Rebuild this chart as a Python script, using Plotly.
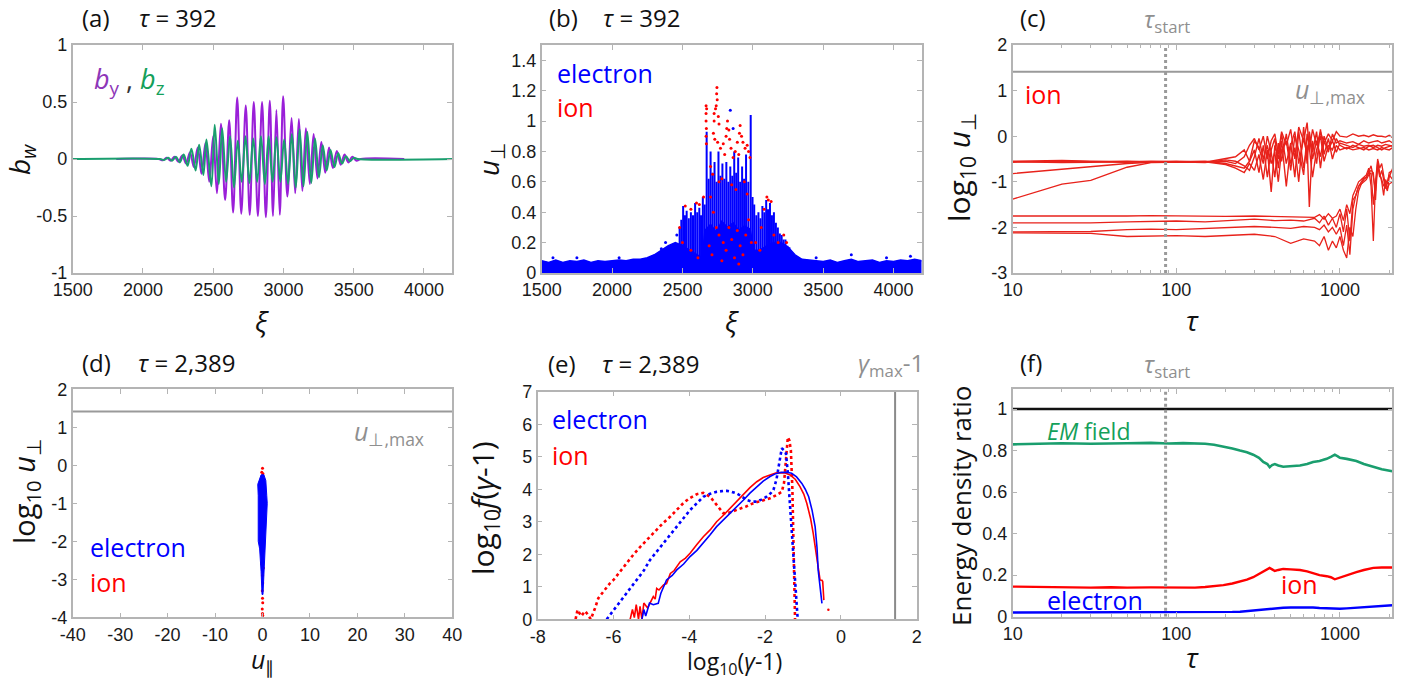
import plotly.graph_objects as go

W, H = 1412, 681

# ---------------- (a) wave magnetic field at tau = 392 (oscillation extrema) ----------------
by_xi = [1810, 2110, 2142, 2170, 2197, 2225, 2252, 2280, 2307, 2335, 2362, 2390, 2417, 2445,
         2472, 2500, 2527, 2555, 2585, 2614, 2642, 2671, 2700, 2732, 2760, 2789, 2818, 2848,
         2875, 2903, 2926, 2950, 2974, 2998, 3028, 3058, 3084, 3110, 3135, 3160, 3188, 3215,
         3242, 3270, 3298, 3325, 3352, 3380, 3408, 3435, 3462, 3490, 3520, 3550, 3860]
by_val = [0, 0, -0.01, 0.01, -0.015, 0.02, -0.025, 0.03, -0.04, 0.06, -0.07, 0.1, -0.13, 0.14,
          -0.2, 0.2, -0.3, 0.31, -0.36, 0.34, -0.47, 0.54, -0.48, 0.47, -0.49, 0.5, -0.5, 0.5,
          -0.51, 0.51, -0.5, 0.43, -0.49, 0.55, -0.33, 0.36, -0.3, 0.35, -0.28, 0.27, -0.22, 0.22,
          -0.17, 0.15, -0.12, 0.1, -0.08, 0.07, -0.05, 0.04, -0.03, 0.02, -0.015, 0, 0]
bz_xi = [1500, 2120, 2150, 2180, 2207, 2235, 2262, 2290, 2318, 2345, 2375, 2400, 2430, 2452,
         2487, 2511, 2540, 2564, 2592, 2620, 2648, 2675, 2703, 2730, 2758, 2785, 2813, 2840,
         2868, 2895, 2923, 2950, 2978, 3005, 3033, 3060, 3088, 3115, 3143, 3170, 3198, 3225,
         3253, 3280, 3308, 3335, 3363, 3390, 3418, 3445, 3473, 3500, 3530, 4200]
bz_val = [0, 0, -0.008, 0.01, -0.015, 0.02, -0.03, 0.04, -0.06, 0.09, -0.1, 0.125, -0.14, 0.17,
          -0.24, 0.3, -0.22, 0.27, -0.2, 0.2, -0.25, 0.16, -0.2, 0.2, -0.21, 0.18, -0.2, 0.2,
          -0.22, 0.2, -0.2, 0.19, -0.2, 0.17, -0.22, 0.22, -0.25, 0.26, -0.24, 0.24, -0.21, 0.18,
          -0.16, 0.12, -0.1, 0.08, -0.07, 0.05, -0.04, 0.025, -0.02, 0.01, 0, 0]

# ---------------- (b) u_perp vs xi at tau = 392 ----------------
band_xi = [1500, 1550, 1600, 1650, 1700, 1750, 1800, 1850, 1900, 1950, 2000, 2050, 2100, 2150,
           2200, 2250, 2300, 2350, 2400, 2450, 2500, 2550, 2600, 2640, 2660, 2700, 2740, 2780,
           2820, 2860, 2900, 2940, 2980, 3010, 3050,
           3100, 3150, 3200, 3250, 3300, 3350, 3400, 3450, 3500, 3550, 3600, 3650, 3700, 3750,
           3800, 3850, 3900, 3950, 4000, 4050, 4100, 4150, 4200]
band_top = [0.08, 0.07, 0.085, 0.07, 0.08, 0.075, 0.085, 0.07, 0.08, 0.075, 0.08, 0.085, 0.08, 0.09,
            0.09, 0.1, 0.12, 0.15, 0.18, 0.2, 0.18, 0.15, 0.12, 0.1, 0.28, 0.32, 0.27, 0.34,
            0.3, 0.33, 0.28, 0.31, 0.29, 0.15, 0.15,
            0.18, 0.2, 0.2, 0.17, 0.12, 0.09, 0.085, 0.08, 0.075, 0.085, 0.07, 0.08, 0.09, 0.075,
            0.08, 0.085, 0.07, 0.08, 0.075, 0.085, 0.08, 0.09, 0.08]
stripe_xi = [2480, 2492, 2505, 2518, 2530, 2545, 2560, 2575, 2590, 2605, 2620, 2632, 2645, 2658,
             2672, 2686, 2700, 2714, 2728, 2742, 2756, 2770, 2784, 2798, 2812, 2826, 2840, 2854,
             2868, 2882, 2896, 2910, 2924, 2938, 2952, 2968, 2985, 2998, 3010, 3025, 3040, 3054,
             3068, 3082, 3095, 3108, 3122, 3136, 3150, 3164, 3178, 3192, 3205, 3218, 3232, 3246,
             3260]
stripe_lo = [0.05, 0.06, 0.03, 0.06, 0.05, 0.06, 0.04, 0.06, 0.05, 0.06, 0.03, 0.06, 0.05, 0.05,
             0.0, 0.03, 0.02, 0.03, 0.0, 0.03, 0.02, 0.03, 0.0, 0.03, 0.02, 0.03, 0.0, 0.03,
             0.02, 0.03, 0.0, 0.03, 0.02, 0.03, 0.0, 0.03, 0.0, 0.03, 0.05, 0.06, 0.04, 0.06,
             0.05, 0.06, 0.04, 0.06, 0.05, 0.06, 0.04, 0.06, 0.05, 0.06, 0.05, 0.06, 0.06, 0.06,
             0.06]
stripe_hi = [0.3, 0.35, 0.44, 0.38, 0.41, 0.36, 0.4, 0.38, 0.46, 0.4, 0.43, 0.38, 0.5, 0.45,
             0.93, 0.62, 0.8, 0.66, 0.73, 0.6, 0.8, 0.64, 0.72, 0.62, 0.73, 0.6, 0.7, 0.64,
             0.8, 0.66, 0.76, 0.6, 0.7, 0.62, 0.78, 0.6, 1.04, 0.5, 0.45, 0.38, 0.4, 0.36,
             0.44, 0.4, 0.48, 0.42, 0.46, 0.38, 0.4, 0.33, 0.3, 0.26, 0.25, 0.22, 0.22, 0.18,
             0.17]
el_pts_xi = [1580, 1750, 2050, 2350, 2840, 2860, 3450, 3700, 3950, 4120, 2460, 2380]
el_pts_u = [0.1, 0.1, 0.1, 0.16, 1.07, 0.95, 0.1, 0.12, 0.1, 0.11, 0.25, 0.2]
ion_pts_xi = [2668, 2668, 2668, 2670, 2668, 2670, 2672, 2745, 2743, 2747, 2740, 2735, 2725, 2725,
              2755, 2760, 2720, 2730, 2750, 2770, 2790, 2800, 2810, 2815, 2820, 2830, 2835, 2845,
              2860, 2875, 2890, 2900, 2905, 2910, 2920, 2930, 2945, 2960, 2970, 2980, 2700, 2715,
              2760, 2780, 2850, 2880, 2940, 2960, 2700, 2720, 2740, 2760, 2790, 2810, 2830, 2850,
              2870, 2890, 2910, 2930, 2950, 2970, 2990, 2690, 2710, 2780, 2900, 2650, 2620, 2600,
              2560, 2520, 2480, 2500, 2560, 2610, 3100, 3110, 3130, 3080, 3060, 3150, 3180, 3220,
              3240, 3020, 3050]
ion_pts_u = [1.1, 1.05, 1.0, 0.95, 0.9, 0.85, 1.08, 1.22, 1.18, 1.14, 1.1, 1.08, 1.05, 1.0,
             1.03, 0.98, 0.92, 0.88, 0.86, 0.82, 0.85, 0.78, 0.9, 0.95, 1.0, 0.94, 0.88, 0.82,
             0.76, 0.8, 0.86, 0.78, 0.92, 0.97, 0.9, 0.86, 0.82, 0.84, 0.8, 0.76, 0.7, 0.65,
             0.6, 0.62, 0.58, 0.55, 0.6, 0.52, 0.5, 0.4, 0.3, 0.25, 0.2, 0.15, 0.3, 0.22,
             0.1, 0.28, 0.18, 0.12, 0.25, 0.35, 0.2, 0.18, 0.12, 0.08, 0.06, 0.5, 0.45, 0.46,
             0.42, 0.44, 0.3, 0.2, 0.15, 0.1, 0.5, 0.48, 0.47, 0.42, 0.3, 0.25, 0.2, 0.25,
             0.2, 0.2, 0.15]

# ---------------- (c) ion trajectories log10 u_perp vs tau ----------------
tau_up = [10, 20, 30, 50, 70, 100, 150, 200, 230, 260, 280, 300, 320, 340, 360, 380, 400, 420,
          440, 470, 500, 530, 560, 600, 630, 650, 680, 720, 760, 800, 850, 900, 950, 1000, 1100,
          1200, 1300, 1400, 1500, 1600, 1700, 1800, 1900, 2000, 2100]
ion_u1 = [-0.55, -0.53, -0.55, -0.56, -0.56, -0.57, -0.56, -0.55, -0.6, -0.45, -0.2, -0.05, -0.3,
          0.0, -0.5, -0.1, 0.05, -0.4, 0.1, -0.2, 0.15, -0.5, 0.2, -0.1, 0.3, -0.3, 0.15, -0.2,
          0.1, -0.15, 0.05, -0.1, 0.1, 0.0, -0.02, 0.05, 0.0, 0.02, -0.01, 0.03, 0.0, 0.0, -0.02,
          0.02, -0.03]
ion_u2 = [-0.82, -0.72, -0.66, -0.6, -0.57, -0.56, -0.55, -0.6, -0.65, -0.7, -0.55, -0.3, -0.8,
          -0.2, -0.9, -0.3, -0.05, -0.7, -0.1, -1.1, -0.2, 0.1, -0.6, -0.05, -0.4, 0.0, -0.5, -0.1,
          -0.45, 0.0, -0.3, -0.1, -0.35, -0.15, -0.2, -0.25, -0.18, -0.22, -0.2, -0.25, -0.2, -0.22,
          -0.18, -0.2, -0.22]
ion_u3 = [-1.38, -1.05, -0.97, -0.68, -0.58, -0.57, -0.56, -0.62, -0.7, -0.8, -0.6, -0.75, -0.4,
          -0.95, -0.3, -1.22, -0.2, -0.5, 0.05, -0.6, -0.15, -0.9, 0.1, -0.7, -0.2, -1.55, -0.1,
          -0.6, 0.15, -0.4, -0.05, -0.5, -0.2, -0.3, -0.25, -0.3, -0.28, -0.25, -0.3, -0.27, -0.3,
          -0.25, -0.28, -0.3, -0.25]
ion_u4 = [-0.56, -0.58, -0.57, -0.55, -0.56, -0.55, -0.57, -0.5, -0.45, -0.3, -0.55, -0.1, -0.25,
          -0.6, 0.0, -0.35, -0.9, -0.15, -0.55, 0.05, -0.6, -0.25, -1.0, 0.2, -0.6, 0.1, -0.35,
          0.1, -0.7, -0.1, -0.35, 0.05, -0.15, -0.1, -0.15, -0.12, -0.18, -0.1, -0.15, -0.12, -0.1,
          -0.15, -0.12, -0.1, -0.15]
ion_u5 = [-0.57, -0.55, -0.56, -0.57, -0.55, -0.56, -0.58, -0.52, -0.55, -0.65, -0.75, -0.45,
          -0.05, -0.5, -0.2, -0.6, -0.35, -1.0, -0.3, -0.1, -0.75, 0.0, -0.3, -0.85, 0.05, -0.25,
          -0.9, -0.3, 0.0, -0.55, -0.2, -0.3, -0.05, -0.2, -0.28, -0.2, -0.25, -0.3, -0.22, -0.2,
          -0.25, -0.3, -0.25, -0.22, -0.2]
tau_lo = [10, 20, 30, 50, 70, 100, 150, 200, 300, 400, 500, 600, 700, 750, 800, 850, 900, 950,
          1000, 1050, 1100, 1150, 1200, 1250, 1300, 1350, 1400, 1450, 1500, 1550, 1600, 1650,
          1700, 1750, 1800, 1850, 1900, 1950, 2000, 2100]
ion_l1 = [-1.75, -1.75, -1.76, -1.75, -1.74, -1.75, -1.76, -1.76, -1.75, -1.76, -1.77, -1.76,
          -1.78, -1.72, -1.82, -1.7, -1.8, -1.75, -1.6, -1.85, -1.5, -1.7, -1.3, -1.15, -1.0,
          -0.95, -0.9, -0.85, -0.7, -1.1, -2.3, -1.0, -0.5, -0.7, -0.6, -0.9, -1.1, -1.2, -0.9, -0.7]
ion_l2 = [-1.9, -1.9, -1.9, -1.88, -1.87, -1.86, -1.88, -1.85, -1.82, -1.85, -1.84, -1.86,
          -1.8, -1.9, -1.75, -1.95, -1.8, -2.0, -1.7, -2.1, -1.6, -2.3, -1.4, -1.3, -1.1, -1.05,
          -0.95, -0.9, -0.8, -0.75, -0.8, -1.4, -0.55, -0.8, -1.0, -1.3, -0.95, -1.05, -0.8, -0.75]
ion_l3 = [-2.1, -2.1, -2.09, -2.05, -2.04, -2.05, -2.02, -2.0, -1.98, -2.0, -2.02, -1.98,
          -2.0, -2.05, -1.95, -2.1, -2.0, -2.15, -2.0, -2.4, -1.95, -2.6, -1.6, -1.3, -1.1, -1.0,
          -0.92, -0.9, -0.75, -0.65, -0.9, -1.2, -0.6, -0.9, -0.75, -1.0, -1.15, -1.0, -0.85, -0.95]
ion_l4 = [-2.12, -2.12, -2.13, -2.2, -2.19, -2.18, -2.2, -2.18, -2.15, -2.2, -2.35, -2.25,
          -2.3, -2.4, -2.2, -2.5, -2.3, -2.45, -2.2, -2.5, -2.67, -2.0, -2.2, -1.6, -1.2, -1.05,
          -1.0, -0.95, -0.85, -0.8, -1.5, -1.1, -0.65, -0.85, -0.95, -1.1, -1.0, -1.15, -1.05, -1.0]
tau_start = 86
log_u_perp_max = 1.415

# ---------------- (d) log10 u_perp vs u_par at tau = 2,389 ----------------
clu_logu = [-0.25, -0.4, -0.5, -0.8, -1.0, -1.3, -1.6, -2.0, -2.2, -2.5, -2.8, -3.1, -3.4]
clu_left = [-0.3, -0.7, -1.0, -0.9, -0.9, -0.8, -0.8, -0.9, -0.6, -0.4, -0.3, -0.2, -0.1]
clu_right = [0.3, 0.7, 0.8, 0.9, 1.0, 0.9, 0.8, 0.7, 0.6, 0.4, 0.3, 0.2, 0.1]
ion_d_upar = [0.0, -0.15, 0.1, 0.0, 0.05, -0.05, 0.0, 0.05, -0.05, 0.0, 0.05, -0.2, 0.2]
ion_d_logu = [-0.08, -0.18, -0.22, -2.9, -3.1, -3.3, -3.5, -3.62, -3.78, -3.9, -3.95, -2.6, -2.7]

# ---------------- (e) energy spectra at tau = 2,389 ----------------
ion_sol_x = [-5.56, -5.5, -5.45, -5.4, -5.34, -5.3, -5.25, -5.2, -5.1, -5.04, -4.95, -4.9, -4.86,
             -4.8, -4.68, -4.6, -4.5, -4.4, -4.24, -4.1, -3.98, -3.8, -3.63, -3.45, -3.28, -3.1,
             -2.93, -2.75, -2.57, -2.4, -2.22, -2.05, -1.87, -1.72, -1.6, -1.47, -1.34, -1.2,
             -1.08, -0.98, -0.9, -0.8, -0.73, -0.66, -0.6, -0.55, -0.5, -0.48, -0.45]
ion_sol_y = [0.0, 0.3, 0.05, 0.45, 0.0, 0.4, 0.0, 0.5, 0.35, 0.5, 0.7, 0.62, 0.95, 0.9, 1.06,
             1.1, 1.41, 1.5, 1.77, 1.88, 2.03, 2.3, 2.54, 2.75, 3.0, 3.2, 3.41, 3.65, 3.87, 4.05,
             4.23, 4.36, 4.44, 4.5, 4.51, 4.5, 4.44, 4.3, 4.08, 3.85, 3.57, 3.1, 2.64, 2.1, 1.62,
             1.21, 1.2, 1.16, 0.59]
el_sol_x = [-5.25, -5.2, -5.15, -5.05, -4.95, -4.82, -4.75, -4.6, -4.45, -4.33, -4.15, -3.98,
            -3.8, -3.63, -3.45, -3.28, -3.1, -2.93, -2.75, -2.57, -2.4, -2.22, -2.05, -1.87,
            -1.72, -1.56, -1.43, -1.3, -1.17, -1.03, -0.94, -0.85, -0.76, -0.68, -0.63, -0.6,
            -0.55, -0.5]
el_sol_y = [0.0, 0.3, 0.1, 0.5, 0.45, 0.49, 0.8, 1.21, 1.35, 1.52, 1.7, 1.93, 2.12, 2.34, 2.6,
            2.85, 3.05, 3.26, 3.47, 3.67, 3.88, 4.08, 4.25, 4.39, 4.48, 4.52, 4.52, 4.49, 4.38,
            4.18, 4.0, 3.77, 3.35, 2.85, 2.2, 1.52, 0.9, 0.49]
ion_dot_x = [-7.0, -6.95, -6.85, -6.75, -6.7, -6.6, -6.5, -6.4, -6.3, -6.2, -6.1, -6.0, -5.87,
             -5.74, -5.6, -5.48, -5.3, -5.12, -5.0, -4.86, -4.7, -4.5, -4.33, -4.16, -4.0, -3.8,
             -3.63, -3.45, -3.3, -3.23, -3.1, -2.95, -2.75, -2.5, -2.31, -2.1, -1.87, -1.7,
             -1.56, -1.5, -1.45, -1.4, -1.36, -1.32, -1.28, -1.25, -1.22, -1.21]
ion_dot_y = [0.0, 0.29, 0.1, 0.25, 0.18, 0.0, 0.3, 0.65, 0.8, 0.95, 1.1, 1.21, 1.4, 1.62, 1.8,
             1.98, 2.22, 2.44, 2.6, 2.75, 2.95, 3.16, 3.37, 3.57, 3.72, 3.85, 3.89, 3.77, 3.55,
             3.46, 3.26, 3.28, 3.36, 3.47, 3.57, 3.65, 3.72, 3.82, 3.92, 4.2, 4.8, 5.6, 5.5, 5.2,
             4.0, 2.44, 1.0, 0.0]
el_dot_x = [-6.18, -6.05, -5.92, -5.78, -5.65, -5.52, -5.39, -5.2, -5.04, -4.86, -4.68, -4.5,
            -4.33, -4.15, -3.98, -3.8, -3.63, -3.45, -3.28, -3.1, -3.01, -2.88, -2.75, -2.62,
            -2.49, -2.35, -2.22, -2.1, -1.96, -1.85, -1.78, -1.7, -1.65, -1.6, -1.56, -1.5,
            -1.45, -1.4, -1.34, -1.28, -1.21, -1.17, -1.14]
el_dot_y = [0.0, 0.2, 0.39, 0.6, 0.8, 1.0, 1.21, 1.5, 1.82, 2.08, 2.34, 2.6, 2.85, 3.1, 3.36,
            3.57, 3.77, 3.86, 3.92, 3.95, 3.95, 3.92, 3.87, 3.78, 3.67, 3.62, 3.62, 3.68, 3.77,
            3.88, 3.98, 4.3, 4.69, 5.0, 5.26, 5.2, 5.1, 4.5, 3.46, 2.4, 1.41, 0.6, 0.0]
log_gamma_max_m1 = 1.43

# ---------------- (f) energy density ratios vs tau ----------------
tau_f = [10, 15, 20, 30, 40, 50, 70, 90, 110, 130, 150, 170, 194, 220, 245, 270, 295, 320, 340,
         360, 372, 385, 400, 420, 450, 500, 570, 630, 685, 750, 830, 880, 930, 970, 1000, 1100,
         1260, 1400, 1600, 1800, 2090]
em_ratio = [0.83, 0.832, 0.835, 0.833, 0.836, 0.835, 0.837, 0.834, 0.836, 0.835, 0.833, 0.828,
            0.82, 0.81, 0.8, 0.792, 0.78, 0.765, 0.745, 0.735, 0.72, 0.73, 0.735, 0.728, 0.722,
            0.725, 0.728, 0.735, 0.745, 0.75, 0.76, 0.77, 0.78, 0.772, 0.765, 0.76, 0.75, 0.735,
            0.72, 0.71, 0.70]
ion_ratio = [0.145, 0.143, 0.145, 0.14, 0.142, 0.14, 0.141, 0.14, 0.142, 0.14, 0.143, 0.147,
             0.152, 0.16, 0.17, 0.178, 0.19, 0.205, 0.215, 0.225, 0.235, 0.228, 0.22, 0.225, 0.23,
             0.228, 0.225, 0.218, 0.21, 0.2, 0.195, 0.19, 0.18, 0.185, 0.19, 0.2, 0.215, 0.225,
             0.235, 0.237, 0.237]
el_ratio = [0.02, 0.02, 0.02, 0.02, 0.02, 0.02, 0.02, 0.02, 0.02, 0.02, 0.02, 0.021, 0.022,
            0.023, 0.024, 0.027, 0.03, 0.032, 0.035, 0.037, 0.038, 0.04, 0.041, 0.042, 0.043,
            0.044, 0.045, 0.045, 0.044, 0.042, 0.04, 0.038, 0.036, 0.037, 0.038, 0.04, 0.043,
            0.046, 0.05, 0.052, 0.055]
total_ratio = [1.0] * len(tau_f)

# ---------------- tick labels ----------------
a_yticks = [-1, -0.5, 0, 0.5, 1]
a_ytext = ["-1", "-0.5", "0", "0.5", "1"]
xi_ticks = [1500, 2000, 2500, 3000, 3500, 4000]
b_yticks = [0, 0.2, 0.4, 0.6, 0.8, 1.0, 1.2, 1.4]
b_ytext = ["0", "0.2", "0.4", "0.6", "0.8", "1", "1.2", "1.4"]
c_yticks = [-3, -2, -1, 0, 1, 2]
c_ytext = ["-3", "-2", "-1", "0", "1", "2"]
tau_ticks = [10, 100, 1000]
tau_minor = [20, 30, 40, 50, 60, 70, 80, 90, 200, 300, 400, 500, 600, 700, 800, 900, 2000]
d_xticks = [-40, -30, -20, -10, 0, 10, 20, 30, 40]
d_xtext = ["-40", "-30", "-20", "-10", "0", "10", "20", "30", "40"]
d_yticks = [-4, -3, -2, -1, 0, 1, 2]
d_ytext = ["-4", "-3", "-2", "-1", "0", "1", "2"]
e_xticks = [-8, -6, -4, -2, 0, 2]
e_xtext = ["-8", "-6", "-4", "-2", "0", "2"]
e_yticks = [0, 1, 2, 3, 4, 5, 6, 7]
f_yticks = [0, 0.2, 0.4, 0.6, 0.8, 1.0]
f_ytext = ["0", "0.2", "0.4", "0.6", "0.8", "1"]

# ---------------- colours ----------------
RED = "#ff0000"
RED_LINE = "#e8221b"
BLUE = "#0000ff"
PURPLE = "#9a1fd8"
GREEN = "#1a9e6e"
GRAY = "#8f8f8f"
FRAME = "#b4b4b4"

TEXT_FONT = "Open Sans, Noto Sans, sans-serif"
TICK_FONT = "Liberation Sans, Arial, sans-serif"

fig = go.Figure()

# (a)
fig.add_trace(go.Scatter(x=by_xi, y=by_val, mode="lines", line=dict(color=PURPLE, width=2, shape="spline", smoothing=1.0),
                         xaxis="x", yaxis="y"))
fig.add_trace(go.Scatter(x=bz_xi, y=bz_val, mode="lines", line=dict(color=GREEN, width=2, shape="spline", smoothing=1.0),
                         xaxis="x", yaxis="y"))

# (b)
fig.add_trace(go.Scatter(x=band_xi, y=band_top, mode="lines", fill="tozeroy", fillcolor=BLUE,
                         line=dict(color=BLUE, width=1.5), xaxis="x2", yaxis="y2"))
sx, sy = [], []
for x0, lo, hi in zip(stripe_xi, stripe_lo, stripe_hi):
    sx += [x0, x0, None]
    sy += [lo, hi, None]
fig.add_trace(go.Scatter(x=sx, y=sy, mode="lines", line=dict(color=BLUE, width=2.0),
                         xaxis="x2", yaxis="y2"))
fig.add_trace(go.Scatter(x=el_pts_xi, y=el_pts_u, mode="markers", marker=dict(color=BLUE, size=3),
                         xaxis="x2", yaxis="y2"))
fig.add_trace(go.Scatter(x=ion_pts_xi, y=ion_pts_u, mode="markers", marker=dict(color=RED, size=3),
                         xaxis="x2", yaxis="y2"))

# (c)
fig.add_trace(go.Scatter(x=[10, 2100], y=[log_u_perp_max, log_u_perp_max], mode="lines",
                         line=dict(color="#9a9a9a", width=2), xaxis="x3", yaxis="y3"))
for series in (ion_u1, ion_u2, ion_u3, ion_u4, ion_u5):
    fig.add_trace(go.Scatter(x=tau_up, y=series, mode="lines", line=dict(color=RED_LINE, width=1.4),
                             xaxis="x3", yaxis="y3"))
for series in (ion_l1, ion_l2, ion_l3, ion_l4):
    fig.add_trace(go.Scatter(x=tau_lo, y=series, mode="lines", line=dict(color=RED_LINE, width=1.3),
                             xaxis="x3", yaxis="y3"))
fig.add_trace(go.Scatter(x=[tau_start, tau_start], y=[-3, 2], mode="lines",
                         line=dict(color="#9a9a9a", width=3, dash="dot"), xaxis="x3", yaxis="y3"))

# (d)
fig.add_trace(go.Scatter(x=[-40, 40], y=[log_u_perp_max, log_u_perp_max], mode="lines",
                         line=dict(color="#9a9a9a", width=2), xaxis="x4", yaxis="y4"))
fig.add_trace(go.Scatter(x=ion_d_upar, y=ion_d_logu, mode="markers", marker=dict(color=RED, size=3),
                         xaxis="x4", yaxis="y4"))
poly_x = clu_left + clu_right[::-1] + [clu_left[0]]
poly_y = clu_logu + clu_logu[::-1] + [clu_logu[0]]
fig.add_trace(go.Scatter(x=poly_x, y=poly_y, mode="lines", fill="toself", fillcolor=BLUE,
                         line=dict(color=BLUE, width=1), xaxis="x4", yaxis="y4"))

# (e)
fig.add_trace(go.Scatter(x=[log_gamma_max_m1, log_gamma_max_m1], y=[0, 7], mode="lines",
                         line=dict(color="#8a8a8a", width=2), xaxis="x5", yaxis="y5"))
fig.add_trace(go.Scatter(x=ion_dot_x, y=ion_dot_y, mode="lines", line=dict(color=RED, width=2.6, dash="dot"),
                         xaxis="x5", yaxis="y5"))
fig.add_trace(go.Scatter(x=el_dot_x, y=el_dot_y, mode="lines", line=dict(color=BLUE, width=2.6, dash="dot"),
                         xaxis="x5", yaxis="y5"))
fig.add_trace(go.Scatter(x=ion_sol_x, y=ion_sol_y, mode="lines", line=dict(color=RED, width=1.6),
                         xaxis="x5", yaxis="y5"))
fig.add_trace(go.Scatter(x=el_sol_x, y=el_sol_y, mode="lines", line=dict(color=BLUE, width=1.6),
                         xaxis="x5", yaxis="y5"))
fig.add_trace(go.Scatter(x=[-0.33], y=[0.29], mode="markers", marker=dict(color=RED, size=2.5),
                         xaxis="x5", yaxis="y5"))

# (f)
fig.add_trace(go.Scatter(x=tau_f, y=total_ratio, mode="lines", line=dict(color="#111111", width=2.4),
                         xaxis="x6", yaxis="y6"))
fig.add_trace(go.Scatter(x=tau_f, y=em_ratio, mode="lines", line=dict(color=GREEN, width=2.6),
                         xaxis="x6", yaxis="y6"))
fig.add_trace(go.Scatter(x=tau_f, y=ion_ratio, mode="lines", line=dict(color=RED, width=2.4),
                         xaxis="x6", yaxis="y6"))
fig.add_trace(go.Scatter(x=tau_f, y=el_ratio, mode="lines", line=dict(color=BLUE, width=2.4),
                         xaxis="x6", yaxis="y6"))
fig.add_trace(go.Scatter(x=[tau_start, tau_start], y=[0, 1.095], mode="lines",
                         line=dict(color="#9a9a9a", width=3, dash="dot"), xaxis="x6", yaxis="y6"))

# ---------------- axes ----------------
# panel frames in pixels: left, right, top, bottom
boxes = {
    1: (72.7, 452.0, 45.0, 273.0),
    2: (541.7, 921.7, 45.0, 273.0),
    3: (1012.7, 1392.3, 45.0, 273.0),
    4: (72.7, 452.3, 389.3, 617.3),
    5: (537.7, 916.7, 391.7, 619.3),
    6: (1012.7, 1392.3, 389.3, 616.7),
}


def base_axis():
    return dict(showline=True, linecolor=FRAME, linewidth=1.5, mirror="ticks",
                ticks="inside", ticklen=5, tickcolor=FRAME, tickwidth=1,
                showgrid=False, zeroline=False, automargin=False,
                tickfont=dict(family=TICK_FONT, size=18, color="#1a1a1a"))


axis_specs = {
    1: (dict(range=[1500, 4200], tickvals=xi_ticks),
        dict(range=[-1, 1], tickvals=a_yticks, ticktext=a_ytext)),
    2: (dict(range=[1500, 4200], tickvals=xi_ticks),
        dict(range=[0, 1.5], tickvals=b_yticks, ticktext=b_ytext)),
    3: (dict(type="log", range=[1, 3.32], tickvals=tau_ticks, ticktext=["10", "100", "1000"],
             minor=dict(tickvals=tau_minor, ticks="inside", ticklen=3, tickcolor=FRAME)),
        dict(range=[-3, 2], tickvals=c_yticks, ticktext=c_ytext)),
    4: (dict(range=[-40, 40], tickvals=d_xticks, ticktext=d_xtext),
        dict(range=[-4, 2], tickvals=d_yticks, ticktext=d_ytext)),
    5: (dict(range=[-8, 2], tickvals=e_xticks, ticktext=e_xtext),
        dict(range=[0, 7], tickvals=e_yticks)),
    6: (dict(type="log", range=[1, 3.32], tickvals=tau_ticks, ticktext=["10", "100", "1000"],
             minor=dict(tickvals=tau_minor, ticks="inside", ticklen=3, tickcolor=FRAME)),
        dict(range=[0, 1.095], tickvals=f_yticks, ticktext=f_ytext)),
}

layout_axes = {}
for k, (l, r, t, b) in boxes.items():
    xs, ys = axis_specs[k]
    xa = base_axis()
    xa.update(xs)
    xa.update(domain=[l / W, r / W], anchor="y" if k == 1 else f"y{k}")
    ya = base_axis()
    ya.update(ys)
    ya.update(domain=[1 - b / H, 1 - t / H], anchor="x" if k == 1 else f"x{k}")
    layout_axes["xaxis" if k == 1 else f"xaxis{k}"] = xa
    layout_axes["yaxis" if k == 1 else f"yaxis{k}"] = ya

# ---------------- text ----------------
annotations = []


def label(px, py, text, size=24, color="#111111", xanchor="left", angle=0, family=TEXT_FONT):
    annotations.append(dict(x=px / W, y=1 - py / H, xref="paper", yref="paper", text=text,
                            showarrow=False, xanchor=xanchor, yanchor="middle", textangle=angle,
                            font=dict(family=family, size=size, color=color)))


# panel headings
label(80, 18, "(a)")
label(137, 18, "<i>τ</i> = 392")
label(547, 18, "(b)")
label(601, 18, "<i>τ</i> = 392")
label(1018, 18, "(c)")
label(1142, 20, "<i>τ</i><sub>start</sub>", color=GRAY)
label(80, 362, "(d)")
label(136, 362, "<i>τ</i> = 2,389")
label(546, 363, "(e)")
label(600, 363, "<i>τ</i> = 2,389")
label(856, 364, "<i>γ</i><sub>max</sub>-1", color=GRAY)
label(1018, 362, "(f)")
label(1142, 365, "<i>τ</i><sub>start</sub>", color=GRAY)

# in-panel labels
label(92, 80, "<span style='color:#8d36b8'><i>b</i><sub>y</sub></span> , "
              "<span style='color:#14a05a'><i>b</i><sub>z</sub></span>", size=27, color="#333333")
label(555, 73, "electron", size=25, color=BLUE)
label(555, 107, "ion", size=25, color=RED)
label(1023, 94, "ion", size=25, color=RED)
label(1293, 90, "<i>u</i><sub>⊥,max</sub>", size=25, color=GRAY)
label(88, 547, "electron", size=25, color=BLUE)
label(88, 582, "ion", size=25, color=RED)
label(352, 432, "<i>u</i><sub>⊥,max</sub>", size=25, color=GRAY)
label(550, 419, "electron", size=25, color=BLUE)
label(550, 455, "ion", size=25, color=RED)
label(1045, 431, "<i>EM</i> field", size=23, color="#14a05a")
label(1279, 584, "ion", size=25, color=RED)
label(1045, 600, "electron", size=25, color=BLUE)

# axis titles
label(262, 321, "<i>ξ</i>", size=28, xanchor="center")
label(732, 321, "<i>ξ</i>", size=28, xanchor="center")
label(1192, 320, "<i>τ</i>", size=28, xanchor="center")
label(262, 660, "<i>u</i><sub>∥</sub>", size=25, xanchor="center")
label(735, 662, "log<sub>10</sub>(<i>γ</i>-1)", size=23, xanchor="center")
label(1192, 657, "<i>τ</i>", size=28, xanchor="center")
label(21, 160, "<i>b<sub>w</sub></i>", size=28, xanchor="center", angle=-90)
label(490, 160, "<i>u</i><sub>⊥</sub>", size=28, xanchor="center", angle=-90)
label(960, 168, "log<sub>10</sub> <i>u</i><sub>⊥</sub>", size=30, xanchor="center", angle=-90)
label(26, 492, "log<sub>10</sub> <i>u</i><sub>⊥</sub>", size=29, xanchor="center", angle=-90)
label(484, 508, "log<sub>10</sub><i>f</i>(<i>γ</i>-1)", size=30, xanchor="center", angle=-90)
label(961, 506, "Energy density ratio", size=26, xanchor="center", angle=-90)

fig.update_layout(width=W, height=H, autosize=False, margin=dict(l=0, r=0, t=0, b=0, pad=0),
                  paper_bgcolor="white", plot_bgcolor="white", showlegend=False,
                  annotations=annotations, **layout_axes)

fig.write_html("out.html")
